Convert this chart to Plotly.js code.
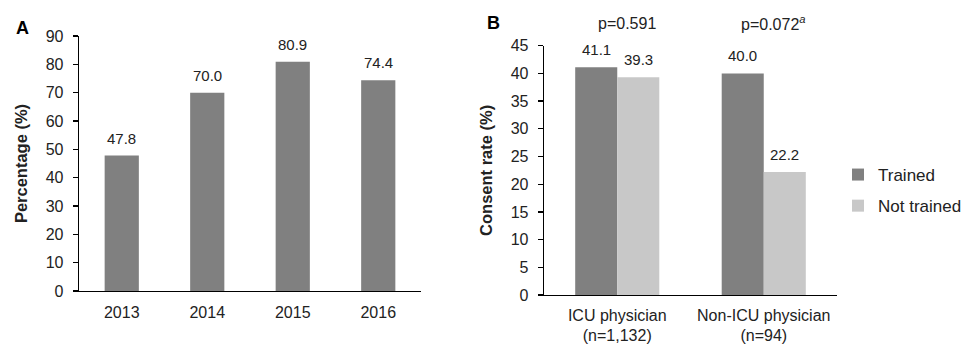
<!DOCTYPE html>
<html>
<head>
<meta charset="utf-8">
<script src="https://cdn.plot.ly/plotly-3.0.1.min.js"></script>
<style>html,body{margin:0;padding:0;background:#fff;}#chart{width:975px;height:344px;}</style>
</head>
<body>
<div id="chart"></div>
<script>
// Panel A data
const yearsA = ['2013', '2014', '2015', '2016'];
const percentA = [47.8, 70.0, 80.9, 74.4];
const yTicksA = [0, 10, 20, 30, 40, 50, 60, 70, 80, 90];

// Panel B data
const groupsB = ['ICU physician<br>(n=1,132)', 'Non-ICU physician<br>(n=94)'];
const trainedB = [41.1, 40.0];
const notTrainedB = [39.3, 22.2];
const yTicksB = [0, 5, 10, 15, 20, 25, 30, 35, 40, 45];
const pValuesB = ['p=0.591', 'p=0.072<sup><i>a</i></sup>'];
const seriesNamesB = ['Trained', 'Not trained'];

const DARK = '#808080';
const LIGHT = '#c8c8c8';
const FONT = 'Liberation Sans, Arial, sans-serif';

const idxA = yearsA.map((_, i) => i);
const idxB = groupsB.map((_, i) => i);
const edges = n => Array.from({length: n + 1}, (_, i) => i - 0.5);

const traces = [
  {type: 'bar', x: idxA, y: percentA, xaxis: 'x', yaxis: 'y', width: 0.4,
   marker: {color: DARK}, showlegend: false, hoverinfo: 'skip'},
  {type: 'bar', name: seriesNamesB[0], x: idxB, y: trainedB, xaxis: 'x2', yaxis: 'y2',
   marker: {color: DARK}, legendgroup: 'g1', offset: -0.287, width: 0.287},
  {type: 'bar', name: seriesNamesB[1], x: idxB, y: notTrainedB, xaxis: 'x2', yaxis: 'y2',
   marker: {color: LIGHT}, legendgroup: 'g2', offset: 0, width: 0.287}
];

const annotations = [];
const fmt = v => v.toFixed(1);
const lblFont = {size: 15, color: '#222'};
idxA.forEach(i => annotations.push({x: i, y: percentA[i], xref: 'x', yref: 'y', text: fmt(percentA[i]),
  showarrow: false, yanchor: 'bottom', yshift: 7, font: lblFont}));
idxB.forEach(i => {
  annotations.push({x: i - 0.1435, y: trainedB[i], xref: 'x2', yref: 'y2', text: fmt(trainedB[i]),
    showarrow: false, yanchor: 'bottom', yshift: 7, font: lblFont});
  annotations.push({x: i + 0.1435, y: notTrainedB[i], xref: 'x2', yref: 'y2', text: fmt(notTrainedB[i]),
    showarrow: false, yanchor: 'bottom', yshift: 7, font: lblFont});
  annotations.push({x: i, y: 0.933, xref: 'x2', yref: 'paper', text: pValuesB[i],
    showarrow: false, xanchor: 'center', yanchor: 'middle', xshift: 10, font: {size: 16, color: '#222'}});
});
annotations.push({x: 14 / 975, y: 1 - 28 / 344, xref: 'paper', yref: 'paper', text: '<b>A</b>', showarrow: false,
  xanchor: 'left', yanchor: 'middle', font: {size: 18, color: '#000'}});
annotations.push({x: 485 / 975, y: 1 - 23 / 344, xref: 'paper', yref: 'paper', text: '<b>B</b>', showarrow: false,
  xanchor: 'left', yanchor: 'middle', font: {size: 18, color: '#000'}});

const axisCommon = {showgrid: false, zeroline: false, showline: true, linecolor: '#000', linewidth: 1.3,
  tickfont: {size: 16, color: '#222'}, fixedrange: true};
const tickOverlay = {showticklabels: false, ticks: 'outside', ticklen: 5, tickcolor: '#000', tickwidth: 1.3,
  showgrid: false, zeroline: false, showline: false, fixedrange: true};

const layout = {
  width: 975, height: 344,
  margin: {l: 0, r: 0, t: 0, b: 0},
  paper_bgcolor: '#fff', plot_bgcolor: '#fff',
  font: {family: FONT, color: '#222'},
  barmode: 'overlay',
  showlegend: true,
  legend: {x: 838 / 975, y: 1 - 157 / 344, xanchor: 'left', yanchor: 'top', traceorder: 'grouped',
    tracegroupgap: 6, font: {size: 17, color: '#222'}, bgcolor: 'rgba(0,0,0,0)'},
  xaxis: Object.assign({}, axisCommon, {domain: [79 / 975, 421 / 975], anchor: 'y', range: [-0.5, yearsA.length - 0.5],
    tickvals: idxA, ticktext: yearsA, ticks: '', ticklabelstandoff: 6}),
  xaxis3: Object.assign({}, tickOverlay, {domain: [79 / 975, 421 / 975], anchor: 'y', overlaying: 'x',
    range: [-0.5, yearsA.length - 0.5], tickvals: edges(yearsA.length)}),
  yaxis: Object.assign({}, axisCommon, {domain: [53 / 344, 308 / 344], anchor: 'x', range: [0, 90],
    tickvals: yTicksA, ticks: 'outside', ticklen: 5, tickcolor: '#000', tickwidth: 1.3, ticklabelstandoff: 6,
    title: {text: '<b>Percentage (%)</b>', font: {size: 16.5, color: '#222'}, standoff: 14}}),
  xaxis2: Object.assign({}, axisCommon, {domain: [544 / 975, 837 / 975], anchor: 'y2', range: [-0.5, groupsB.length - 0.5],
    tickvals: idxB, ticktext: groupsB, ticks: '', ticklabelstandoff: 5}),
  xaxis4: Object.assign({}, tickOverlay, {domain: [544 / 975, 837 / 975], anchor: 'y2', overlaying: 'x2',
    range: [-0.5, groupsB.length - 0.5], tickvals: edges(groupsB.length)}),
  yaxis2: Object.assign({}, axisCommon, {domain: [49 / 344, 298.3 / 344], anchor: 'x2', range: [0, 45],
    tickvals: yTicksB, ticks: 'outside', ticklen: 5, tickcolor: '#000', tickwidth: 1.3, ticklabelstandoff: 6,
    title: {text: '<b>Consent rate (%)</b>', font: {size: 16.5, color: '#222'}, standoff: 14}}),
  annotations: annotations
};

Plotly.newPlot('chart', traces, layout, {displayModeBar: false, staticPlot: true});
</script>
</body>
</html>
